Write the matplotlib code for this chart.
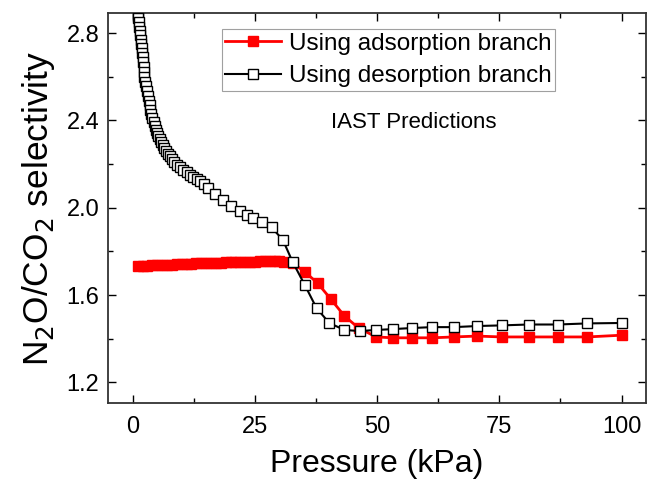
import matplotlib
matplotlib.use("Agg")
import matplotlib.pyplot as plt
from matplotlib.ticker import MultipleLocator

plt.rcParams['font.family'] = ['Liberation Sans', 'DejaVu Sans']

# adsorption branch (red, filled squares)
p_ads = [1, 2, 3, 4, 5, 6, 7, 8, 9, 10, 11, 12, 13, 14, 15, 16, 17, 18, 19, 20,
         21, 22, 23, 24, 25, 26, 27, 28, 29, 30, 31,
         32.7, 35.2, 37.8, 40.5, 43.3, 46.2, 49.8, 53.3, 57.2, 61.2, 65.7, 70.4,
         75.5, 81.0, 86.9, 93.0, 100.0]
s_ads = [1.733, 1.734, 1.735, 1.736, 1.737, 1.738, 1.739, 1.740, 1.741, 1.742,
         1.743, 1.744, 1.745, 1.746, 1.747, 1.748, 1.748, 1.749, 1.750, 1.750,
         1.751, 1.752, 1.752, 1.753, 1.753, 1.754, 1.754, 1.755, 1.755, 1.754, 1.751,
         1.747, 1.706, 1.655, 1.582, 1.504, 1.449, 1.408, 1.404, 1.404, 1.404,
         1.408, 1.412, 1.408, 1.408, 1.408, 1.408, 1.416]

# desorption branch (black line, open squares)
p_des = [0.5, 0.65, 0.8, 0.9,
         1.00, 1.10, 1.20, 1.30, 1.40, 1.50, 1.60, 1.70, 1.80, 1.90, 2.00, 2.10,
         2.20, 2.30, 2.40,
         2.56, 2.72, 2.89, 3.06, 3.24, 3.43, 3.62, 3.82, 4.03, 4.25,
         4.48, 4.72, 4.97, 5.23, 5.50, 5.80, 6.10,
         6.45, 6.80, 7.20, 7.60, 8.05, 8.50, 9.00,
         9.6, 10.3, 11.0, 11.7, 12.4, 13.1, 13.8, 14.5,
         15.4, 16.8, 18.4, 20.2, 21.9, 23.3, 24.6, 26.4, 28.4, 30.7, 32.7,
         35.2, 37.6, 40.2, 43.3, 46.4, 49.8, 53.3, 57.2, 61.2, 65.7, 70.4,
         75.5, 81.0, 86.9, 93.0, 100.0]
s_des = [3.10, 3.03, 2.96, 2.925,
         2.890, 2.870, 2.850, 2.830, 2.810, 2.790, 2.770, 2.750, 2.730, 2.710,
         2.690, 2.668, 2.645, 2.622, 2.600,
         2.578, 2.556, 2.533, 2.511, 2.490, 2.469, 2.449, 2.429, 2.410, 2.392,
         2.375, 2.358, 2.342, 2.327, 2.313, 2.300, 2.287,
         2.274, 2.261, 2.248, 2.235, 2.222, 2.209, 2.197,
         2.185, 2.173, 2.162, 2.152, 2.141, 2.131, 2.121, 2.111,
         2.090, 2.062, 2.035, 2.008, 1.985, 1.968, 1.954, 1.935, 1.910, 1.853, 1.752,
         1.646, 1.540, 1.472, 1.440, 1.435, 1.440, 1.444, 1.449, 1.453, 1.453,
         1.458, 1.461, 1.465, 1.465, 1.470, 1.472]

fig = plt.figure(figsize=(6.49, 4.86), dpi=100)
ax = fig.add_axes([0.1669, 0.1702, 0.8285, 0.8037])

ax.plot(p_ads, s_ads, color='red', lw=2, marker='s', ms=7.2,
        mfc='red', mec='red', label='Using adsorption branch', zorder=2)
ax.plot(p_des, s_des, color='black', lw=1.5, marker='s', ms=7.2,
        mfc='white', mec='black', mew=1.0, label='Using desorption branch', zorder=3)

ax.set_xlim(-5, 105)
ax.set_ylim(1.104, 2.894)
ax.xaxis.set_major_locator(MultipleLocator(25))
ax.xaxis.set_minor_locator(MultipleLocator(12.5))
ax.yaxis.set_major_locator(MultipleLocator(0.4))
ax.yaxis.set_minor_locator(MultipleLocator(0.2))
ax.tick_params(which='both', direction='in', top=True, right=True, width=1.0)
ax.tick_params(which='major', length=6, labelsize=17)
ax.tick_params(which='minor', length=3.5)
ax.tick_params(axis='x', pad=9)
ax.tick_params(axis='y', pad=6.5)
for sp in ax.spines.values():
    sp.set_linewidth(1.3)
    sp.set_color('#333333')

ax.set_xlabel('Pressure (kPa)', fontsize=23, labelpad=8)
ax.set_ylabel(r'N$_2$O/CO$_2$ selectivity', fontsize=25.5, labelpad=7)

ax.text(57.5, 2.39, 'IAST Predictions', fontsize=16, ha='center', va='center')

leg = ax.legend(loc='upper left', bbox_to_anchor=(0.211, 0.9575), fontsize=17.5,
                frameon=True, fancybox=False, handlelength=2.3, handletextpad=0.3,
                borderpad=0.15, labelspacing=0.42, borderaxespad=0)
leg.get_frame().set_edgecolor('#888888')
leg.get_frame().set_linewidth(0.8)

fig.savefig('out.png', dpi=100)
